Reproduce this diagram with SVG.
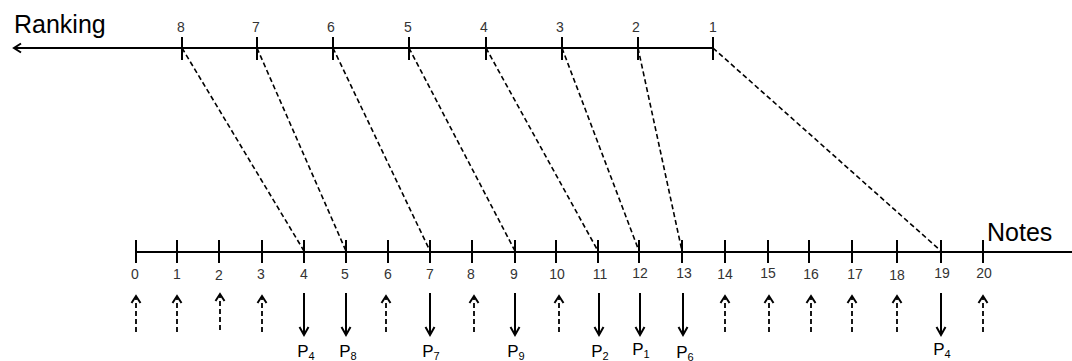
<svg xmlns="http://www.w3.org/2000/svg" width="1072" height="361" viewBox="0 0 1072 361">
<style>
.axis{stroke:#000;stroke-width:2;fill:none}
.tick{stroke:#000;stroke-width:2}
.conn{stroke:#000;stroke-width:1.6;stroke-dasharray:5,3;fill:none}
.up{stroke:#000;stroke-width:1.8;stroke-dasharray:5,3;fill:none}
.down{stroke:#000;stroke-width:2;fill:none}
.lbl{font-family:"Liberation Sans",Arial,sans-serif;font-size:14px;fill:#333;text-anchor:middle}
.title{font-family:"Liberation Sans",Arial,sans-serif;font-size:25px;fill:#000}
.p{font-family:"Liberation Sans",Arial,sans-serif;font-size:17px;fill:#000;text-anchor:middle}
.sub{font-size:11px}
</style>
<defs>
<marker id="ah" markerWidth="12" markerHeight="12" refX="9" refY="6" orient="auto" markerUnits="userSpaceOnUse">
<polyline points="2,1.5 9,6 2,10.5" fill="none" stroke="#000" stroke-width="2"/>
</marker>
<marker id="ahs" markerWidth="12" markerHeight="12" refX="9" refY="6" orient="auto" markerUnits="userSpaceOnUse">
<polyline points="1,1.5 9,6 1,10.5" fill="none" stroke="#000" stroke-width="2"/>
</marker>
</defs>

<g id="ranking-axis">
<line class="axis" x1="713" y1="48" x2="14" y2="48" marker-end="url(#ah)"/>
<text class="title" x="14" y="33">Ranking</text>
<g id="rank-ticks">
<line class="tick" x1="182" y1="37" x2="182" y2="60"/>
<line class="tick" x1="257" y1="37" x2="257" y2="60"/>
<line class="tick" x1="333" y1="37" x2="333" y2="60"/>
<line class="tick" x1="409" y1="37" x2="409" y2="60"/>
<line class="tick" x1="486" y1="37" x2="486" y2="60"/>
<line class="tick" x1="562" y1="37" x2="562" y2="60"/>
<line class="tick" x1="638" y1="37" x2="638" y2="60"/>
<line class="tick" x1="713" y1="37" x2="713" y2="60"/>
</g>
<text class="lbl" x="181" y="32">8</text>
<text class="lbl" x="256" y="32">7</text>
<text class="lbl" x="331" y="32">6</text>
<text class="lbl" x="408" y="32">5</text>
<text class="lbl" x="484" y="32">4</text>
<text class="lbl" x="560" y="32">3</text>
<text class="lbl" x="636" y="32">2</text>
<text class="lbl" x="713" y="32">1</text>
</g>

<g id="notes-axis">
<line class="axis" x1="136" y1="252" x2="1072" y2="252"/>
<text class="title" x="987" y="241">Notes</text>
<g id="note-ticks">
<line class="tick" x1="136" y1="240" x2="136" y2="263"/>
<line class="tick" x1="177" y1="240" x2="177" y2="263"/>
<line class="tick" x1="219" y1="240" x2="219" y2="263"/>
<line class="tick" x1="262" y1="240" x2="262" y2="263"/>
<line class="tick" x1="304" y1="240" x2="304" y2="263"/>
<line class="tick" x1="346" y1="240" x2="346" y2="263"/>
<line class="tick" x1="388" y1="240" x2="388" y2="263"/>
<line class="tick" x1="430" y1="240" x2="430" y2="263"/>
<line class="tick" x1="472" y1="240" x2="472" y2="263"/>
<line class="tick" x1="515" y1="240" x2="515" y2="263"/>
<line class="tick" x1="556" y1="240" x2="556" y2="263"/>
<line class="tick" x1="598" y1="240" x2="598" y2="263"/>
<line class="tick" x1="639" y1="240" x2="639" y2="263"/>
<line class="tick" x1="682" y1="240" x2="682" y2="263"/>
<line class="tick" x1="725" y1="240" x2="725" y2="263"/>
<line class="tick" x1="768" y1="240" x2="768" y2="263"/>
<line class="tick" x1="809" y1="240" x2="809" y2="263"/>
<line class="tick" x1="852" y1="240" x2="852" y2="263"/>
<line class="tick" x1="897" y1="240" x2="897" y2="263"/>
<line class="tick" x1="941" y1="240" x2="941" y2="263"/>
<line class="tick" x1="983" y1="240" x2="983" y2="263"/>
</g>
<text class="lbl" x="135" y="279">0</text>
<text class="lbl" x="177" y="279">1</text>
<text class="lbl" x="219" y="280">2</text>
<text class="lbl" x="261" y="279">3</text>
<text class="lbl" x="304" y="279">4</text>
<text class="lbl" x="345" y="279">5</text>
<text class="lbl" x="388" y="279">6</text>
<text class="lbl" x="430" y="279">7</text>
<text class="lbl" x="471" y="279">8</text>
<text class="lbl" x="514" y="279">9</text>
<text class="lbl" x="557" y="279">10</text>
<text class="lbl" x="600" y="279">11</text>
<text class="lbl" x="640" y="278">12</text>
<text class="lbl" x="684" y="278">13</text>
<text class="lbl" x="725" y="279">14</text>
<text class="lbl" x="768" y="278">15</text>
<text class="lbl" x="811" y="279">16</text>
<text class="lbl" x="855" y="279">17</text>
<text class="lbl" x="897" y="280">18</text>
<text class="lbl" x="942" y="278">19</text>
<text class="lbl" x="984" y="278">20</text>
</g>

<g id="connectors">
<line class="conn" x1="182" y1="48" x2="304" y2="251"/>
<line class="conn" x1="257" y1="48" x2="346" y2="251"/>
<line class="conn" x1="333" y1="48" x2="430" y2="251"/>
<line class="conn" x1="409" y1="48" x2="515" y2="251"/>
<line class="conn" x1="486" y1="48" x2="598" y2="251"/>
<line class="conn" x1="562" y1="48" x2="639" y2="251"/>
<line class="conn" x1="638" y1="48" x2="682" y2="251"/>
<line class="conn" x1="713" y1="48" x2="941" y2="251"/>
</g>

<g id="free-notes">
<line class="up" x1="136" y1="332" x2="136" y2="296" marker-end="url(#ah)"/>
<line class="up" x1="177" y1="332" x2="177" y2="296" marker-end="url(#ah)"/>
<line class="up" x1="220" y1="330" x2="220" y2="294" marker-end="url(#ah)"/>
<line class="up" x1="262" y1="332" x2="262" y2="296" marker-end="url(#ah)"/>
<line class="up" x1="386" y1="332" x2="386" y2="296" marker-end="url(#ah)"/>
<line class="up" x1="474" y1="332" x2="474" y2="296" marker-end="url(#ah)"/>
<line class="up" x1="559" y1="332" x2="559" y2="296" marker-end="url(#ah)"/>
<line class="up" x1="725" y1="332" x2="725" y2="296" marker-end="url(#ah)"/>
<line class="up" x1="769" y1="332" x2="769" y2="296" marker-end="url(#ah)"/>
<line class="up" x1="811" y1="332" x2="811" y2="296" marker-end="url(#ah)"/>
<line class="up" x1="852" y1="332" x2="852" y2="296" marker-end="url(#ah)"/>
<line class="up" x1="897" y1="332" x2="897" y2="296" marker-end="url(#ah)"/>
<line class="up" x1="983" y1="332" x2="983" y2="296" marker-end="url(#ah)"/>
</g>

<g id="assigned-notes">
<line class="down" x1="304" y1="293" x2="304" y2="335" marker-end="url(#ahs)"/>
<line class="down" x1="346" y1="293" x2="346" y2="335" marker-end="url(#ahs)"/>
<line class="down" x1="430" y1="293" x2="430" y2="335" marker-end="url(#ahs)"/>
<line class="down" x1="515" y1="293" x2="515" y2="335" marker-end="url(#ahs)"/>
<line class="down" x1="599" y1="293" x2="599" y2="335" marker-end="url(#ahs)"/>
<line class="down" x1="640" y1="293" x2="640" y2="335" marker-end="url(#ahs)"/>
<line class="down" x1="683" y1="293" x2="683" y2="335" marker-end="url(#ahs)"/>
<line class="down" x1="941" y1="293" x2="941" y2="335" marker-end="url(#ahs)"/>
<text class="p" x="306" y="357">P<tspan class="sub" dy="3">4</tspan></text>
<text class="p" x="348" y="357">P<tspan class="sub" dy="3">8</tspan></text>
<text class="p" x="431" y="357">P<tspan class="sub" dy="3">7</tspan></text>
<text class="p" x="516" y="357">P<tspan class="sub" dy="3">9</tspan></text>
<text class="p" x="600" y="357">P<tspan class="sub" dy="3">2</tspan></text>
<text class="p" x="641" y="355">P<tspan class="sub" dy="3">1</tspan></text>
<text class="p" x="685" y="358">P<tspan class="sub" dy="3">6</tspan></text>
<text class="p" x="942" y="355">P<tspan class="sub" dy="3">4</tspan></text>
</g>
</svg>
